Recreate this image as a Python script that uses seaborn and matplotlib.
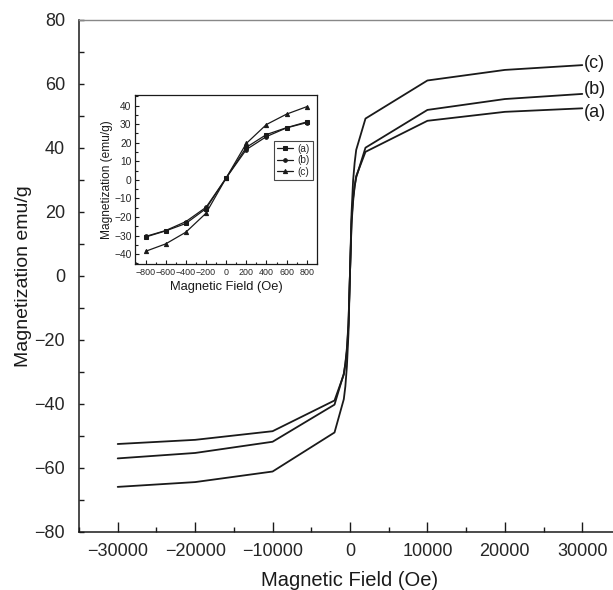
import numpy as np
import pandas as pd
import seaborn as sns
import matplotlib
matplotlib.use("Agg")
import matplotlib.pyplot as plt
from matplotlib.ticker import MultipleLocator

# ---- data: main hysteresis (high field) ----
field_main = [-30000, -20000, -10000, -2000, -800, -600, -400, -200, 0,
              200, 400, 600, 800, 2000, 10000, 20000, 30000]
mag_a = [-52.5, -51.2, -48.5, -38.9, -30.8, -27.5, -23.5, -15.5, 1.0,
         17.5, 24.4, 28.1, 31.2, 38.8, 48.5, 51.3, 52.4]
mag_b = [-57.0, -55.3, -51.8, -40.2, -30.5, -27.3, -22.5, -14.8, 1.0,
         16.3, 23.3, 28.0, 30.8, 40.1, 51.9, 55.3, 56.9]
mag_c = [-65.9, -64.4, -61.1, -48.9, -38.5, -34.5, -28.2, -18.0, 1.0,
         19.6, 29.8, 35.4, 39.4, 49.2, 61.1, 64.4, 65.9]

# ---- data: inset (low field) ----
field_low = [-800, -600, -400, -200, 0, 200, 400, 600, 800]
low_a = [-30.8, -27.5, -23.5, -15.5, 1.0, 17.5, 24.4, 28.1, 31.2]
low_b = [-30.5, -27.3, -22.5, -14.8, 1.0, 16.3, 23.3, 28.0, 30.8]
low_c = [-38.5, -34.5, -28.2, -18.0, 1.0, 19.6, 29.8, 35.4, 39.4]

series_names = ["(a)", "(b)", "(c)"]
label_y = [51.2, 58.3, 66.5]

sns.set_theme(style="white")
plt.rcParams["font.family"] = ["Liberation Sans", "DejaVu Sans"]
plt.rcParams["axes.unicode_minus"] = True

main_df = pd.DataFrame({
    "field": field_main * 3,
    "mag": mag_a + mag_b + mag_c,
    "series": sum([[n] * len(field_main) for n in series_names], []),
})
low_df = pd.DataFrame({
    "field": field_low * 3,
    "mag": low_a + low_b + low_c,
    "series": sum([[n] * len(field_low) for n in series_names], []),
})

fig = plt.figure(figsize=(6.13, 5.9), dpi=100)
ax = fig.add_axes([79 / 613, 1 - 532 / 590, (621 - 79) / 613, (532 - 20) / 590])

ink = "#1a1a1a"
sns.lineplot(data=main_df, x="field", y="mag", hue="series", sort=False,
             palette=[ink, ink, ink], linewidth=1.3, legend=False, ax=ax)

ax.set_xlim(-35000, 35000)
ax.set_ylim(-80, 80)
ax.xaxis.set_major_locator(MultipleLocator(10000))
ax.xaxis.set_minor_locator(MultipleLocator(5000))
ax.yaxis.set_major_locator(MultipleLocator(20))
ax.yaxis.set_minor_locator(MultipleLocator(10))
ax.tick_params(axis="x", which="major", direction="in", length=7, width=1,
               color=ink, labelsize=13, pad=8, bottom=True)
ax.tick_params(axis="x", which="minor", direction="in", length=3.6, width=1,
               color=ink, bottom=True)
ax.tick_params(axis="y", which="major", direction="in", length=3.5, width=1,
               color=ink, labelsize=13, pad=10, left=True)
ax.tick_params(axis="y", which="minor", direction="in", length=3.5, width=1,
               color=ink, left=True)
ax.set_xticks([-30000, -20000, -10000, 0, 10000, 20000, 30000])
for s in ["left", "bottom"]:
    ax.spines[s].set_color(ink)
    ax.spines[s].set_linewidth(1.1)
ax.spines["top"].set_color("#888888")
ax.spines["top"].set_linewidth(1.0)
ax.spines["right"].set_color("#888888")
ax.set_xlabel("Magnetic Field (Oe)", fontsize=14.5, color=ink, labelpad=8)
ax.set_ylabel("Magnetization emu/g", fontsize=14, color=ink, labelpad=2)

for name, yv in zip(series_names, label_y):
    ax.text(30150, yv, name, fontsize=13, color=ink, ha="left", va="center")

# ---- inset ----
ins = fig.add_axes([135 / 613, 1 - 264.3 / 590, 182.3 / 613, 169.3 / 590])
markers = {"(a)": "s", "(b)": "o", "(c)": "^"}
sizes = {"(a)": 3.2, "(b)": 2.6, "(c)": 3.0}
for name in series_names:
    sub = low_df[low_df["series"] == name]
    sns.lineplot(data=sub, x="field", y="mag", sort=False, color=ink,
                 linewidth=0.9, marker=markers[name], markersize=sizes[name],
                 markeredgecolor=ink, markerfacecolor=ink, label=name, ax=ins)

ins.set_xlim(-905, 905)
ins.set_ylim(-45.5, 45.7)
ins.xaxis.set_major_locator(MultipleLocator(200))
ins.xaxis.set_minor_locator(MultipleLocator(100))
ins.yaxis.set_major_locator(MultipleLocator(10))
ins.yaxis.set_minor_locator(MultipleLocator(5))
ins.tick_params(axis="both", which="major", direction="in", length=3, width=0.8,
                color=ink, pad=2.5, bottom=True, left=True)
ins.tick_params(axis="x", which="major", labelsize=6.4)
ins.tick_params(axis="y", which="major", labelsize=7.4)
ins.tick_params(axis="both", which="minor", direction="in", length=1.8, width=0.8,
                color=ink, bottom=True, left=True)
for s in ins.spines.values():
    s.set_color(ink)
    s.set_linewidth(0.9)
ins.set_xlabel("Magnetic Field (Oe)", fontsize=9.3, color=ink, labelpad=3)
ins.set_ylabel("Magnetization (emu/g)", fontsize=8.6, color=ink, labelpad=1)
leg = ins.legend(loc="upper right", bbox_to_anchor=(0.975, 0.73), fontsize=7.2,
                 frameon=True, fancybox=False, edgecolor=ink, handlelength=1.6,
                 handletextpad=0.4, borderpad=0.3, labelspacing=0.15,
                 borderaxespad=0)
leg.get_frame().set_linewidth(0.8)

fig.savefig("out.png", dpi=100)
